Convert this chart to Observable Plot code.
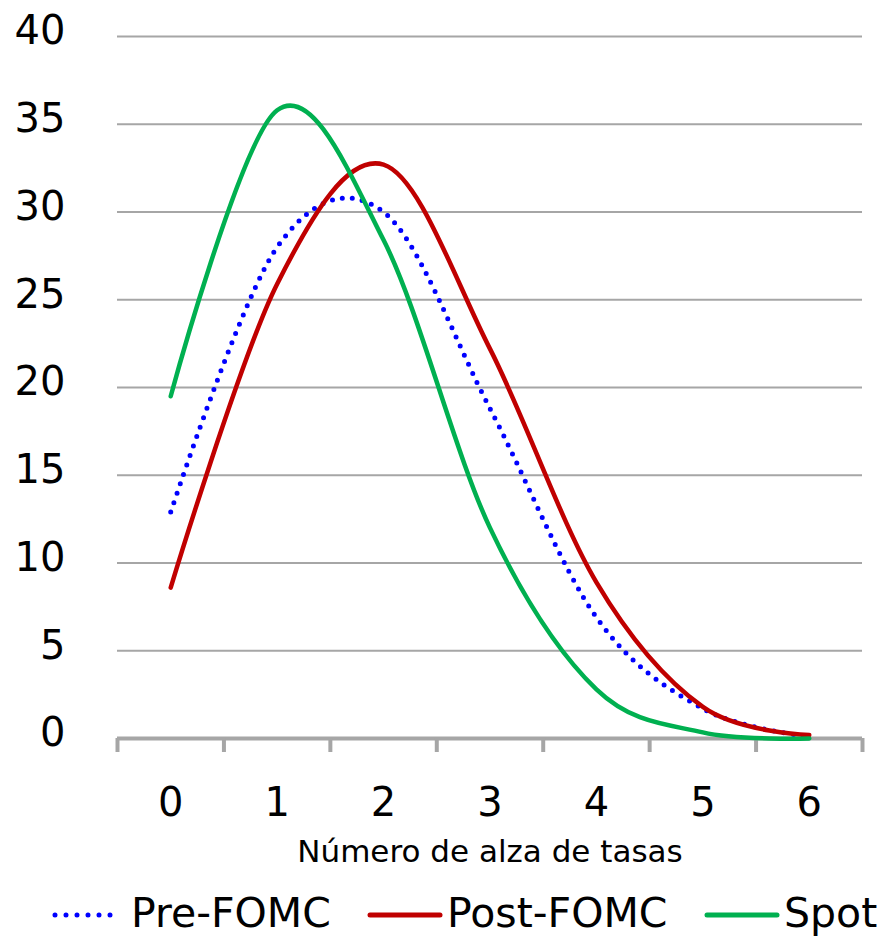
<!DOCTYPE html>
<html>
<head>
<meta charset="utf-8">
<script src="https://cdn.jsdelivr.net/npm/d3@7"></script>
<script src="https://cdn.jsdelivr.net/npm/@observablehq/plot@0.6"></script>
<style>
  html, body { margin: 0; padding: 0; background: white; }
  #chart svg { display: block; }
  #legend { display: block; }
</style>
</head>
<body>
<div id="chart"></div>
<script>
const categories = [0, 1, 2, 3, 4, 5, 6];
const preFOMC  = [12.9, 28.0, 30.0, 18.8, 6.9, 1.7, 0.1];
const postFOMC = [8.6, 25.9, 32.7, 22.2, 8.9, 1.8, 0.2];
const spot     = [19.5, 35.8, 28.4, 12.0, 2.8, 0.35, 0.0];
const yTicks = [0, 5, 10, 15, 20, 25, 30, 35, 40];
const seriesNames = ["Pre-FOMC", "Post-FOMC", "Spot"];
const xTitle = "Número de alza de tasas";

const seriesValues = [preFOMC, postFOMC, spot];
const colors = ["#0000ff", "#c00000", "#00b050"];
const table = seriesNames.flatMap((name, i) =>
  categories.map((c, j) => ({series: name, x: c, y: seriesValues[i][j]})));
const bounds = [...categories.map(c => c - 0.5), categories[categories.length - 1] + 0.5];

const lineStyle = [
  {stroke: colors[0], strokeWidth: 5, strokeDasharray: "0,10", strokeLinecap: "round"},
  {stroke: colors[1], strokeWidth: 4.5, strokeLinecap: "round"},
  {stroke: colors[2], strokeWidth: 4.5, strokeLinecap: "round"}
];

const chart = Plot.plot({
  width: 877,
  height: 870,
  marginLeft: 117,
  marginRight: 15,
  marginTop: 36,
  marginBottom: 132,
  x: {domain: [bounds[0], bounds[bounds.length - 1]]},
  y: {domain: [0, 40]},
  style: {fontFamily: "DejaVu Sans", background: "white", color: "black", overflow: "visible"},
  marks: [
    Plot.ruleY(yTicks.filter(t => t > 0), {stroke: "#a6a6a6", strokeWidth: 2}),
    Plot.axisY(yTicks, {tickSize: 0, tickPadding: 52, fontSize: 40, dy: -5, fill: "black", label: null}),
    Plot.ruleY([0], {stroke: "#a6a6a6", strokeWidth: 4}),
    Plot.axisX(bounds, {tickSize: 14, tickFormat: () => "", stroke: "#a6a6a6", strokeWidth: 4, label: null}),
    Plot.axisX(categories, {tickSize: 0, tickPadding: 49, fontSize: 40, fill: "black", label: null}),
    Plot.text([xTitle], {frameAnchor: "bottom", lineAnchor: "middle", dy: 114, fontSize: 31, fill: "black"}),
    ...seriesNames.map((name, i) =>
      Plot.line(table.filter(d => d.series === name), {
        x: "x", y: "y", curve: "cardinal", tension: 0, ...lineStyle[i]
      }))
  ]
});
document.getElementById("chart").appendChild(chart);

// Legend below the chart
const legend = d3.select("body").append("svg")
  .attr("id", "legend")
  .attr("width", 877).attr("height", 68)
  .style("font-family", "DejaVu Sans");
const items = [
  {x1: 55, x2: 121, tx: 131},
  {x1: 370, x2: 440, tx: 447},
  {x1: 707, x2: 777, tx: 784}
];
items.forEach((it, i) => {
  const st = lineStyle[i];
  legend.append("line")
    .attr("x1", it.x1).attr("x2", it.x2).attr("y1", 45).attr("y2", 45)
    .attr("stroke", st.stroke).attr("stroke-width", 5)
    .attr("stroke-linecap", "round")
    .attr("stroke-dasharray", i === 0 ? "0,11" : null);
  legend.append("text")
    .attr("x", it.tx).attr("y", 57)
    .attr("font-size", 41).attr("fill", "black")
    .text(seriesNames[i]);
});
</script>
</body>
</html>
